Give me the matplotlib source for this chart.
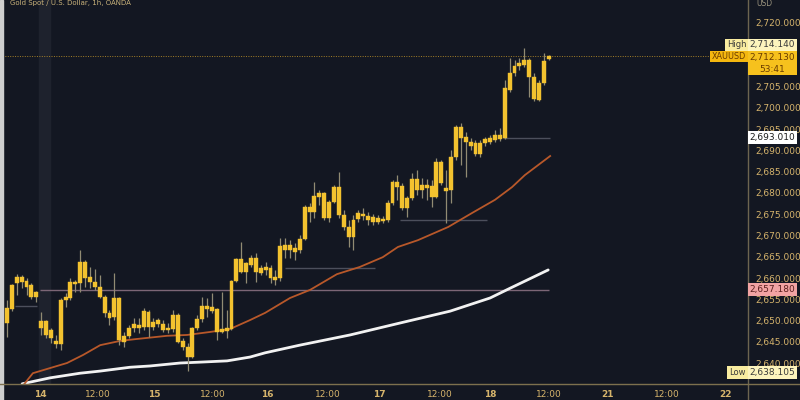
import matplotlib
matplotlib.use("Agg")
import matplotlib.pyplot as plt
from matplotlib.patches import Rectangle
from matplotlib.lines import Line2D

# ---------------- data (XAUUSD, 1h candles) ----------------
opens = [2649.4, 2652.7, 2658.8, 2660.2, 2659.3, 2658.4, 2656.7, 2649.9, 2649.9, 2647.8,
         2645.2, 2644.5, 2654.8, 2655.3, 2658.6, 2658.8, 2663.8, 2660.2, 2659.1, 2657.9,
         2655.5, 2651.8, 2650.8, 2655.3, 2644.9, 2646.4, 2648.2, 2648.9, 2648.5, 2652.0,
         2648.5, 2650.1, 2649.2, 2647.8, 2648.0, 2651.3, 2645.2, 2643.8, 2641.4, 2648.2,
         2650.4, 2653.4, 2652.2, 2652.7, 2647.3, 2647.5, 2648.0, 2659.3, 2664.5, 2661.4,
         2663.1, 2664.7, 2661.2, 2662.6, 2662.4, 2659.5, 2660.0, 2667.8, 2666.6, 2667.1,
         2666.6, 2669.2, 2676.7, 2675.5, 2679.1, 2680.0, 2674.1, 2677.9, 2681.4, 2674.8,
         2672.0, 2669.6, 2673.9, 2675.1, 2674.6, 2673.2, 2674.1, 2673.4, 2673.6, 2677.6,
         2682.6, 2681.6, 2676.5, 2678.8, 2683.3, 2680.7, 2681.9, 2681.6, 2679.1, 2687.3,
         2681.2, 2680.7, 2688.5, 2695.5, 2693.2, 2692.0, 2691.8, 2689.2, 2691.8, 2692.0,
         2692.5, 2693.6, 2692.9, 2704.2, 2708.2, 2709.9, 2711.3, 2711.3, 2707.3, 2701.9,
         2705.9, 2711.5]
highs = [2654.8, 2658.6, 2660.9, 2660.7, 2660.0, 2658.8, 2656.9, 2652.0, 2650.1, 2648.2,
         2646.6, 2655.3, 2656.5, 2660.0, 2659.5, 2666.6, 2664.2, 2662.6, 2662.1, 2660.7,
         2656.0, 2652.5, 2661.2, 2655.5, 2647.3, 2648.9, 2650.6, 2650.6, 2652.9, 2652.5,
         2650.6, 2650.6, 2650.1, 2649.4, 2652.5, 2651.8, 2645.9, 2644.7, 2648.5, 2651.3,
         2655.5, 2655.3, 2656.5, 2652.9, 2656.7, 2652.5, 2659.5, 2664.7, 2668.5, 2663.8,
         2665.4, 2665.9, 2663.1, 2663.8, 2663.1, 2661.9, 2669.4, 2669.4, 2668.9, 2668.2,
         2670.1, 2677.2, 2677.6, 2682.6, 2680.7, 2680.2, 2678.4, 2681.9, 2684.9, 2676.0,
         2673.6, 2674.8, 2676.0, 2676.5, 2675.5, 2675.1, 2674.8, 2674.6, 2678.4, 2683.1,
         2684.2, 2682.4, 2679.3, 2684.7, 2685.4, 2683.5, 2683.3, 2683.1, 2688.2, 2687.8,
         2685.4, 2690.1, 2696.0, 2696.5, 2694.4, 2692.9, 2692.5, 2692.5, 2693.2, 2693.6,
         2694.8, 2695.3, 2706.6, 2711.8, 2711.3, 2711.8, 2714.14, 2711.8, 2708.2, 2706.6,
         2712.9, 2712.5]
lows = [2646.1, 2652.2, 2656.0, 2657.6, 2656.0, 2655.1, 2654.4, 2646.6, 2645.9, 2644.7,
        2643.5, 2643.1, 2653.2, 2654.8, 2656.7, 2656.7, 2657.9, 2657.6, 2657.2, 2655.3,
        2650.8, 2648.9, 2650.1, 2644.2, 2643.8, 2645.9, 2647.3, 2647.1, 2647.8, 2646.1,
        2647.8, 2648.5, 2647.3, 2647.1, 2647.3, 2644.7, 2643.1, 2638.105, 2641.2, 2647.8,
        2649.7, 2650.8, 2651.8, 2645.4, 2647.1, 2645.9, 2647.8, 2659.1, 2661.2, 2658.8,
        2662.6, 2659.1, 2660.7, 2660.7, 2658.8, 2658.4, 2659.3, 2664.7, 2664.7, 2664.2,
        2665.9, 2668.9, 2673.2, 2674.1, 2677.2, 2673.6, 2673.2, 2677.6, 2674.1, 2671.3,
        2667.3, 2666.6, 2673.2, 2673.6, 2672.5, 2672.5, 2672.7, 2672.9, 2673.2, 2677.2,
        2678.4, 2676.0, 2674.4, 2678.4, 2679.5, 2678.8, 2678.4, 2676.7, 2678.8, 2681.9,
        2672.9, 2677.6, 2687.8, 2686.6, 2683.8, 2690.1, 2688.7, 2688.5, 2691.1, 2691.5,
        2692.0, 2692.2, 2692.7, 2703.8, 2707.5, 2708.9, 2709.6, 2702.6, 2701.6, 2701.6,
        2705.4, 2711.3]
closes = [2652.9, 2658.4, 2660.2, 2659.1, 2657.9, 2655.5, 2655.5, 2648.2, 2646.6, 2645.9,
          2644.5, 2654.8, 2655.5, 2659.1, 2659.1, 2663.8, 2660.0, 2659.1, 2657.9, 2655.5,
          2651.8, 2650.6, 2655.3, 2645.4, 2646.4, 2648.2, 2649.2, 2648.2, 2652.2, 2648.5,
          2649.7, 2649.2, 2647.8, 2648.2, 2651.3, 2644.9, 2643.8, 2641.4, 2648.2, 2650.4,
          2653.4, 2652.7, 2653.2, 2647.3, 2648.0, 2648.2, 2659.3, 2664.5, 2661.4, 2663.5,
          2664.7, 2661.4, 2662.4, 2661.9, 2660.0, 2660.2, 2667.5, 2666.6, 2667.8, 2666.1,
          2669.2, 2676.7, 2675.5, 2679.3, 2680.0, 2674.1, 2677.9, 2681.4, 2674.8, 2672.0,
          2669.6, 2673.6, 2675.3, 2674.6, 2673.6, 2674.4, 2673.2, 2673.9, 2677.6, 2682.6,
          2681.4, 2676.5, 2678.8, 2683.3, 2680.7, 2681.9, 2681.2, 2679.1, 2687.3, 2682.4,
          2680.5, 2688.5, 2695.5, 2692.9, 2692.0, 2691.1, 2689.2, 2691.8, 2692.7, 2692.9,
          2693.6, 2692.7, 2704.7, 2708.2, 2709.9, 2710.6, 2710.1, 2707.3, 2702.1, 2705.9,
          2711.1, 2712.13]

# moving averages (bar index, price)
ema_fast_idx = [3.5, 5.3, 8.8, 12.3, 15.6, 19.1, 23.2, 26.2, 32.8, 36.9, 41.6, 45.7, 49.8,
                52.9, 58.0, 62.1, 67.6, 72.3, 77.0, 80.1, 84.2, 90.4, 95.3, 100.0, 103.5,
                106.1, 111.3]
ema_fast_val = [2635.0, 2637.6, 2638.8, 2640.0, 2641.9, 2644.2, 2645.2, 2645.6, 2646.4,
                2646.6, 2647.3, 2648.0, 2650.1, 2651.8, 2655.3, 2657.2, 2660.9, 2662.6,
                2664.9, 2667.3, 2668.9, 2672.0, 2675.3, 2678.4, 2681.4, 2684.2, 2688.7]
ma_slow_idx = [3.1, 8.8, 15.0, 19.1, 25.2, 29.3, 35.5, 39.5, 45.1, 49.8, 52.9, 60.0, 70.3,
               80.5, 90.8, 99.0, 103.1, 110.9]
ma_slow_val = [2635.1, 2636.5, 2637.6, 2638.1, 2639.0, 2639.3, 2640.0, 2640.2, 2640.5,
               2641.4, 2642.4, 2644.2, 2646.6, 2649.4, 2652.2, 2655.3, 2657.6, 2661.9]

# horizontal level segments (price, first bar, last bar)
level_prices = [2653.4, 2657.18, 2662.4, 2673.6, 2693.01]
level_start = [1.6, 6.8, 57.0, 80.5, 101.6]
level_end = [6.1, 111.0, 75.4, 98.4, 111.3]

price_ticks = list(range(2640, 2725, 5))
hidden_ticks = [2710, 2715]          # covered by the price labels in the reference
time_tick_pos = [6.8, 18.6, 30.1, 42.2, 53.3, 65.8, 76.4, 88.7, 99.0, 111.1, 123.0, 135.2, 147.3]
time_tick_lab = ["14", "12:00", "15", "12:00", "16", "12:00", "17", "12:00", "18", "12:00",
                 "21", "12:00", "22"]

last_price = 2712.13
high_price = 2714.14
low_price = 2638.105
prev_level = 2693.01
pink_level = 2657.18

# ---------------- styling ----------------
BG = "#131722"
GOLD_TXT = "#d6b46c"
W, H = 800, 400

fig = plt.figure(figsize=(8, 4), dpi=100, facecolor=BG)
ax = fig.add_axes([0, 16 / H, 748 / W, 384 / H], facecolor=BG)
ax.set_xlim(-1.434, 151.84)
ax.set_ylim(2635.06, 2725.41)
for s in ax.spines.values():
    s.set_visible(False)

# highlighted column
ax.axvspan(6.6, 8.8, color="#1e222d", zorder=0)

# level lines
seg_colors = ["#4c4f5c", "#7c6676", "#4c4f5c", "#4c4f5c", "#4c4f5c"]
for p, a, b, c in zip(level_prices, level_start, level_end, seg_colors):
    ax.hlines(p, a, b, colors=c, lw=1.0, zorder=1)
ax.axhline(last_price, xmin=0, xmax=711 / 748, color="#c99a2a", lw=0.7,
           ls=(0, (1, 1.5)), alpha=0.8, zorder=1)

# moving averages
ax.plot(ma_slow_idx, ma_slow_val, color="#f2f2f2", lw=2.0, zorder=2, solid_capstyle="round")
ax.plot(ema_fast_idx, ema_fast_val, color="#b8582a", lw=1.3, zorder=2)

# candles
idx = list(range(len(opens)))
ax.vlines(idx, lows, highs, colors="#918b73", lw=0.9, zorder=3)
bottoms = [min(o, c) for o, c in zip(opens, closes)]
heights = [max(abs(c - o), 0.35) for o, c in zip(opens, closes)]
ax.bar(idx, heights, bottom=bottoms, width=0.8, color="#f3c22f", edgecolor="#f3c22f",
       lw=0.3, zorder=4)

# axes ticks
ax.yaxis.tick_right()
ax.set_yticks(price_ticks)
ax.set_yticklabels(["" if v in hidden_ticks else f"{v:,.3f}" for v in price_ticks])
ax.tick_params(axis="y", length=0, pad=5, labelsize=6.5, labelcolor=GOLD_TXT)
ax.set_xticks(time_tick_pos)
ax.set_xticklabels(time_tick_lab)
ax.tick_params(axis="x", length=0, pad=4.5, labelsize=6.5, labelcolor=GOLD_TXT)
for t in ax.get_xticklabels():
    if ":" not in t.get_text():
        t.set_fontweight("bold")

# separators
fig.add_artist(Line2D([748 / W, 748 / W], [0, 1], color="#6d6550", lw=1.0))
fig.add_artist(Line2D([0, 1], [16 / H, 16 / H], color="#7d704e", lw=1.0))
fig.add_artist(Rectangle((0, 0), 3 / W, 1, transform=fig.transFigure, color="#cfcfcf"))

fig.canvas.draw()


def ypix(price):
    return ax.transData.transform((0, price))[1]


def box(x0, x1, price, h, face, lines, tcolor, dy=0.0, size=6.5):
    yc = ypix(price) + dy
    n = len(lines)
    top = yc + h / 2
    total_h = h * n
    fig.add_artist(Rectangle((x0 / W, (top - total_h) / H), (x1 - x0) / W, total_h / H,
                             transform=fig.transFigure, facecolor=face, edgecolor="none",
                             zorder=10))
    for k, s in enumerate(lines):
        fig.text((x0 + x1) / 2 / W, (yc - k * h) / H, s, color=tcolor, fontsize=size,
                 ha="center", va="center", zorder=11)


box(725, 748, high_price, 12, "#f9eca0", ["High"], "#3a3a3a", dy=3, size=6)
box(748, 797, high_price, 12, "#fdf4bd", [f"{high_price:,.3f}"], "#3a3a3a", dy=3)
box(710, 748, last_price, 11, "#f4b70f", ["XAUUSD"], "#6a3c00", size=5.8)
box(748, 797, last_price, 12, "#f6c11d", [f"{last_price:,.3f}", "53:41"], "#6a3c00", dy=-1)
box(748, 797, prev_level, 13, "#ffffff", [f"{prev_level:,.3f}"], "#1b1b1b")
box(748, 797, pink_level, 13, "#f2a3a3", [f"{pink_level:,.3f}"], "#5b1e1e")
box(727, 748, low_price, 13, "#f9eca0", ["Low"], "#3a3a3a", dy=-1, size=6)
box(748, 797, low_price, 13, "#fdf4bd", [f"{low_price:,.3f}"], "#3a3a3a", dy=-1)

fig.text(10 / W, 1 - 3.5 / H, "Gold Spot / U.S. Dollar, 1h, OANDA", fontsize=5,
         color="#c9b27a", va="center")
fig.text(756 / W, 1 - 4 / H, "USD", fontsize=5.5, color="#9a937e", va="center")

fig.savefig("out.png", dpi=100, facecolor=BG)
